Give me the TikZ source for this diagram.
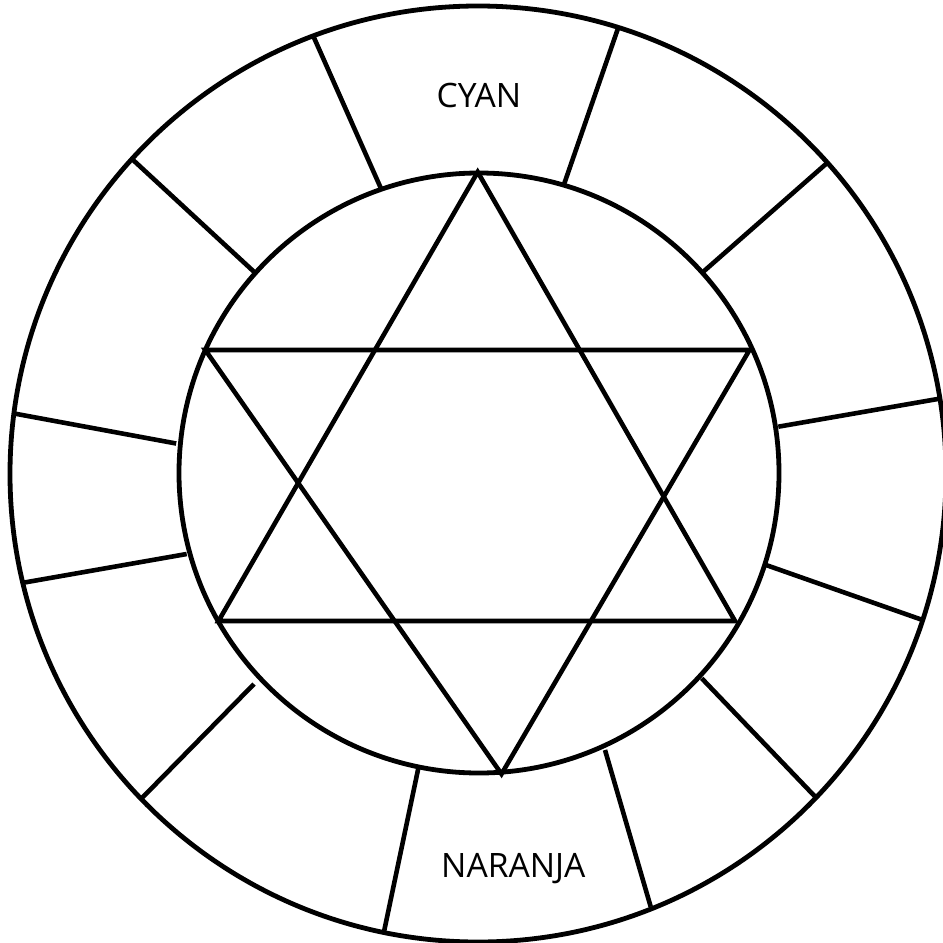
\documentclass[tikz,border=0pt]{standalone}
\usepackage{fontspec}
\setmainfont{Open Sans}
\begin{document}
\begin{tikzpicture}[x=1pt,y=-1pt,
  ring/.style={draw=black,line width=4.8pt},
  spoke/.style={draw=black,line width=4.6pt},
  starline/.style={draw=black,line width=4.6pt,line join=miter},
  label/.style={font=\fontsize{33.6}{40}\selectfont,text=black,inner sep=0pt,anchor=base}]
\useasboundingbox (0,0) rectangle (943,943);
% circles
\coordinate (oc) at (478,474);
\coordinate (ic) at (479,473);
\draw[ring] (oc) circle[radius=468];
\draw[ring] (ic) circle[radius=300];
% star vertices
\coordinate (t1) at (477.7,172);
\coordinate (t2) at (218.5,621);
\coordinate (t3) at (735,621);
\coordinate (d1) at (205.3,350);
\coordinate (d2) at (749.5,350);
\coordinate (d3) at (501.5,774);
\draw[starline] (t1) -- (t2) -- (t3) -- cycle;
\draw[starline] (d1) -- (d2) -- (d3) -- cycle;
% spokes: inner end a, outer end b
\coordinate (a1) at (381,188.5);   \coordinate (b1) at (313.2,35.9);
\coordinate (a2) at (564.3,183.5); \coordinate (b2) at (618.3,27.5);
\coordinate (a3) at (703.3,271.7); \coordinate (b3) at (826.7,163.3);
\coordinate (a4) at (778.3,426.7); \coordinate (b4) at (941.7,398.3);
\coordinate (a5) at (766,565);     \coordinate (b5) at (924,620.5);
\coordinate (a6) at (701.7,678.3); \coordinate (b6) at (816.7,798.3);
\coordinate (a7) at (605,750);     \coordinate (b7) at (650.7,906.7);
\coordinate (a8) at (418.3,768.3); \coordinate (b8) at (384,931.7);
\coordinate (a9) at (254,684);     \coordinate (b9) at (141.7,798.3);
\coordinate (a10) at (186.7,554);  \coordinate (b10) at (23.3,582.7);
\coordinate (a11) at (176.2,443.5);\coordinate (b11) at (12.5,413.2);
\coordinate (a12) at (255,272.7);  \coordinate (b12) at (132,159);
\foreach \i in {1,...,12} {\draw[spoke] (a\i) -- (b\i);}
% labels
\node[label] (cyan) at (479,107.3) {CYAN};
\node[label] (naranja) at (513.3,877.7) {NARANJA};
\end{tikzpicture}
\end{document}
